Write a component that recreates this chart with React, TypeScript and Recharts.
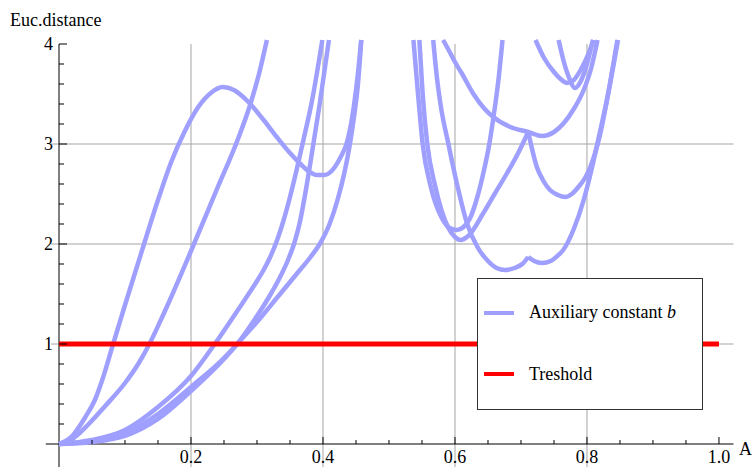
import { LineChart, Line, XAxis, YAxis, ReferenceLine, Legend } from "recharts";

// tick lists (major ticks carry a label, the rest are minor marks)
const xTicks = [0.05, 0.1, 0.15, 0.2, 0.25, 0.3, 0.35, 0.4, 0.45, 0.5, 0.55, 0.6, 0.65, 0.7, 0.75, 0.8, 0.85, 0.9, 0.95, 1.0];
const xMajor = [0.2, 0.4, 0.6, 0.8, 1.0];
const yTicks = [0.2, 0.4, 0.6, 0.8, 1, 1.2, 1.4, 1.6, 1.8, 2, 2.2, 2.4, 2.6, 2.8, 3, 3.2, 3.4, 3.6, 3.8, 4];
const yMajor = [1, 2, 3, 4];
const xGrid = [0.2, 0.4, 0.6, 0.8];
const yGrid = [1, 2, 3];

// curves, [x, distance]
const curveA = [[0, 0], [0.02, 0.08], [0.04, 0.27], [0.055, 0.45], [0.065, 0.63], [0.082, 1], [0.1, 1.39], [0.126, 1.94], [0.15, 2.44], [0.17, 2.82], [0.19, 3.12], [0.21, 3.36], [0.23, 3.51], [0.248, 3.57], [0.265, 3.54], [0.287, 3.42], [0.31, 3.24], [0.33, 3.07], [0.35, 2.91], [0.366, 2.8], [0.38, 2.72], [0.391, 2.69], [0.402, 2.69], [0.413, 2.73], [0.426, 2.86], [0.436, 3.01], [0.445, 3.3], [0.452, 3.65], [0.458, 4.04]];
const curveB = [[0, 0], [0.02, 0.05], [0.045, 0.2], [0.07, 0.38], [0.1, 0.61], [0.12, 0.8], [0.137, 1], [0.155, 1.25], [0.17, 1.47], [0.2, 1.93], [0.24, 2.56], [0.27, 3.03], [0.29, 3.4], [0.303, 3.7], [0.315, 4.04]];
const curveC = [[0, 0], [0.05, 0.04], [0.1, 0.14], [0.15, 0.37], [0.2, 0.68], [0.236, 1], [0.27, 1.33], [0.3, 1.63], [0.31, 1.74], [0.32, 1.87], [0.33, 2.03], [0.34, 2.23], [0.35, 2.47], [0.36, 2.74], [0.37, 3.03], [0.383, 3.42], [0.399, 4.04]];
const curveD = [[0, 0], [0.05, 0.03], [0.1, 0.11], [0.15, 0.3], [0.2, 0.57], [0.25, 0.86], [0.27, 1], [0.3, 1.28], [0.32, 1.49], [0.335, 1.67], [0.347, 1.84], [0.357, 2.02], [0.365, 2.22], [0.373, 2.5], [0.383, 2.9], [0.395, 3.4], [0.409, 4.04]];
const curveE = [[0, 0], [0.05, 0.02], [0.1, 0.08], [0.15, 0.25], [0.2, 0.53], [0.25, 0.85], [0.27, 1], [0.3, 1.22], [0.33, 1.46], [0.36, 1.7], [0.38, 1.86], [0.395, 2], [0.41, 2.2], [0.422, 2.44], [0.432, 2.7], [0.44, 2.97], [0.447, 3.27], [0.453, 3.6], [0.458, 4.04]];
const curveF = [[0.537, 4.04], [0.544, 3.5], [0.551, 3], [0.563, 2.58], [0.58, 2.26], [0.592, 2.16], [0.603, 2.14], [0.613, 2.17], [0.623, 2.26], [0.633, 2.45], [0.643, 2.71], [0.652, 3], [0.659, 3.3], [0.666, 3.65], [0.672, 4.04]];
const curveG1 = [[0.546, 4.04], [0.551, 3.5], [0.558, 3], [0.57, 2.58], [0.59, 2.16], [0.6, 2.07], [0.608, 2.04], [0.62, 2.08], [0.643, 2.31], [0.66, 2.5], [0.679, 2.71], [0.695, 2.9], [0.711, 3.12]];
const curveG2 = [[0.711, 3.12], [0.724, 2.77], [0.734, 2.63], [0.744, 2.54], [0.756, 2.49], [0.767, 2.47], [0.777, 2.5], [0.787, 2.57], [0.797, 2.66], [0.805, 2.77], [0.82, 3.1], [0.832, 3.5], [0.846, 4.04]];
const curveI = [[0.582, 4.04], [0.592, 3.92], [0.6, 3.82], [0.61, 3.71], [0.628, 3.5], [0.645, 3.35], [0.658, 3.27], [0.684, 3.17], [0.711, 3.12], [0.732, 3.08], [0.75, 3.12], [0.765, 3.21], [0.78, 3.35], [0.795, 3.54], [0.806, 3.75], [0.816, 4.04]];
const curveJ1 = [[0.567, 4.04], [0.572, 3.7], [0.578, 3.4], [0.59, 3], [0.603, 2.6], [0.618, 2.21], [0.634, 1.97], [0.65, 1.83], [0.663, 1.76], [0.676, 1.74], [0.69, 1.76], [0.702, 1.8], [0.711, 1.87]];
const curveJ2 = [[0.711, 1.87], [0.72, 1.83], [0.732, 1.81], [0.745, 1.83], [0.755, 1.88], [0.764, 1.94], [0.78, 2.15], [0.795, 2.44], [0.806, 2.72], [0.817, 3.04], [0.832, 3.5], [0.847, 4.04]];
const curveK = [[0.722, 4.04], [0.735, 3.86], [0.75, 3.72], [0.76, 3.65], [0.77, 3.61], [0.78, 3.64], [0.792, 3.76], [0.802, 3.9], [0.81, 4.04]];
const curveL = [[0.757, 4.04], [0.765, 3.82], [0.773, 3.66], [0.782, 3.56], [0.79, 3.62], [0.8, 3.8], [0.809, 4.04]];
const threshold = [[0, 1], [1, 1]];

const BLUE = "#9f9fff";
const RED = "#ff0000";
const GRID = "#a5a5a5";
const FONT = "'Liberation Serif', 'Times New Roman', serif";

const toPoints = (pts: number[][]) => pts.map(([x, y]) => ({ x, y }));

const blueCurves = [curveA, curveB, curveC, curveD, curveE, curveF, curveG1, curveG2, curveI, curveJ1, curveJ2, curveK, curveL].map(toPoints);

function XTick({ x, y, payload }: any) {
  const v = payload.value;
  const major = xMajor.includes(v);
  return (
    <g>
      <line x1={x} x2={x} y1={y} y2={y - (major ? 7 : 4)} stroke="#000" />
      {major && (
        <text x={x} y={y + 19} textAnchor="middle" fontFamily={FONT} fontSize={18} fill="#000">
          {v.toFixed(1)}
        </text>
      )}
    </g>
  );
}

function YTick({ x, y, payload }: any) {
  const v = payload.value;
  const major = yMajor.includes(v);
  return (
    <g>
      <line x1={x} x2={x + (major ? 8 : 5)} y1={y} y2={y} stroke="#000" />
      {major && (
        <text x={x - 6} y={y + 6} textAnchor="end" fontFamily={FONT} fontSize={18} fill="#000">
          {v}
        </text>
      )}
    </g>
  );
}

function LegendBox({ payload }: any) {
  const items = (payload || []).filter((p: any) => p.type !== "none");
  return (
    <svg width={226} height={132} style={{ display: "block" }}>
      <rect x={0.5} y={0.5} width={225} height={131} fill="#fff" stroke="#333" />
      {items.map((p: any, i: number) => {
        const name = String(p.value);
        const italic = name.endsWith(" b");
        return (
          <g key={name}>
            <line x1={7} x2={37} y1={35 + i * 61} y2={35 + i * 61} stroke={p.color} strokeWidth={4} />
            <text x={52} y={40 + i * 62} fontFamily={FONT} fontSize={18} fill="#000">
              {italic ? name.slice(0, -1) : name}
              {italic && <tspan fontStyle="italic">b</tspan>}
            </text>
          </g>
        );
      })}
    </svg>
  );
}

export default function App() {
  return (
    <div style={{ position: "absolute", left: 0, top: 0, width: 754, height: 467, background: "#fff" }}>
      <LineChart width={754} height={467} margin={{ top: 40, right: 20.5, bottom: 0, left: 0 }}>
        <XAxis
          type="number"
          dataKey="x"
          domain={[0, 1.022]}
          ticks={xTicks}
          interval={0}
          height={23}
          axisLine={false}
          tickLine={false}
          tickSize={0}
          tickMargin={0}
          tick={XTick}
        />
        <YAxis
          type="number"
          dataKey="y"
          domain={[0, 4.04]}
          ticks={yTicks}
          interval={0}
          width={59}
          axisLine={false}
          tickLine={false}
          tickSize={0}
          tickMargin={0}
          tick={YTick}
        />
        {xGrid.map((g) => (
          <ReferenceLine key={`gx${g}`} segment={[{ x: g, y: -0.3 }, { x: g, y: 4 }]} stroke={GRID} ifOverflow="visible" />
        ))}
        {yGrid.map((g) => (
          <ReferenceLine key={`gy${g}`} segment={[{ x: -0.012, y: g }, { x: 1.022, y: g }]} stroke={GRID} ifOverflow="visible" />
        ))}
        <ReferenceLine segment={[{ x: -0.02, y: 0 }, { x: 1.022, y: 0 }]} stroke="#000" ifOverflow="visible" />
        <ReferenceLine segment={[{ x: 0, y: -0.3 }, { x: 0, y: 4 }]} stroke="#000" ifOverflow="visible" />
        {blueCurves.map((c, i) => (
          <Line
            key={`b${i}`}
            data={c}
            dataKey="y"
            type="monotone"
            stroke={BLUE}
            strokeWidth={4.5}
            dot={false}
            activeDot={false}
            isAnimationActive={false}
            name={i === 0 ? "Auxiliary constant b" : `curve${i}`}
            legendType={i === 0 ? "line" : "none"}
          />
        ))}
        <Line
          data={toPoints(threshold)}
          dataKey="y"
          type="linear"
          stroke={RED}
          strokeWidth={5}
          dot={false}
          activeDot={false}
          isAnimationActive={false}
          name="Treshold"
          legendType="line"
        />
        <Legend
          layout="vertical"
          align="center"
          verticalAlign="middle"
          content={LegendBox}
          wrapperStyle={{ left: 477, top: 278, width: 226, height: 132 }}
        />
      </LineChart>
      <svg width={754} height={467} style={{ position: "absolute", left: 0, top: 0, pointerEvents: "none" }}>
        <text x={10} y={26} fontFamily={FONT} fontSize={18} fill="#000">
          Euc.distance
        </text>
        <text x={739} y={455} fontFamily={FONT} fontSize={18} fill="#000">
          A
        </text>
      </svg>
    </div>
  );
}
